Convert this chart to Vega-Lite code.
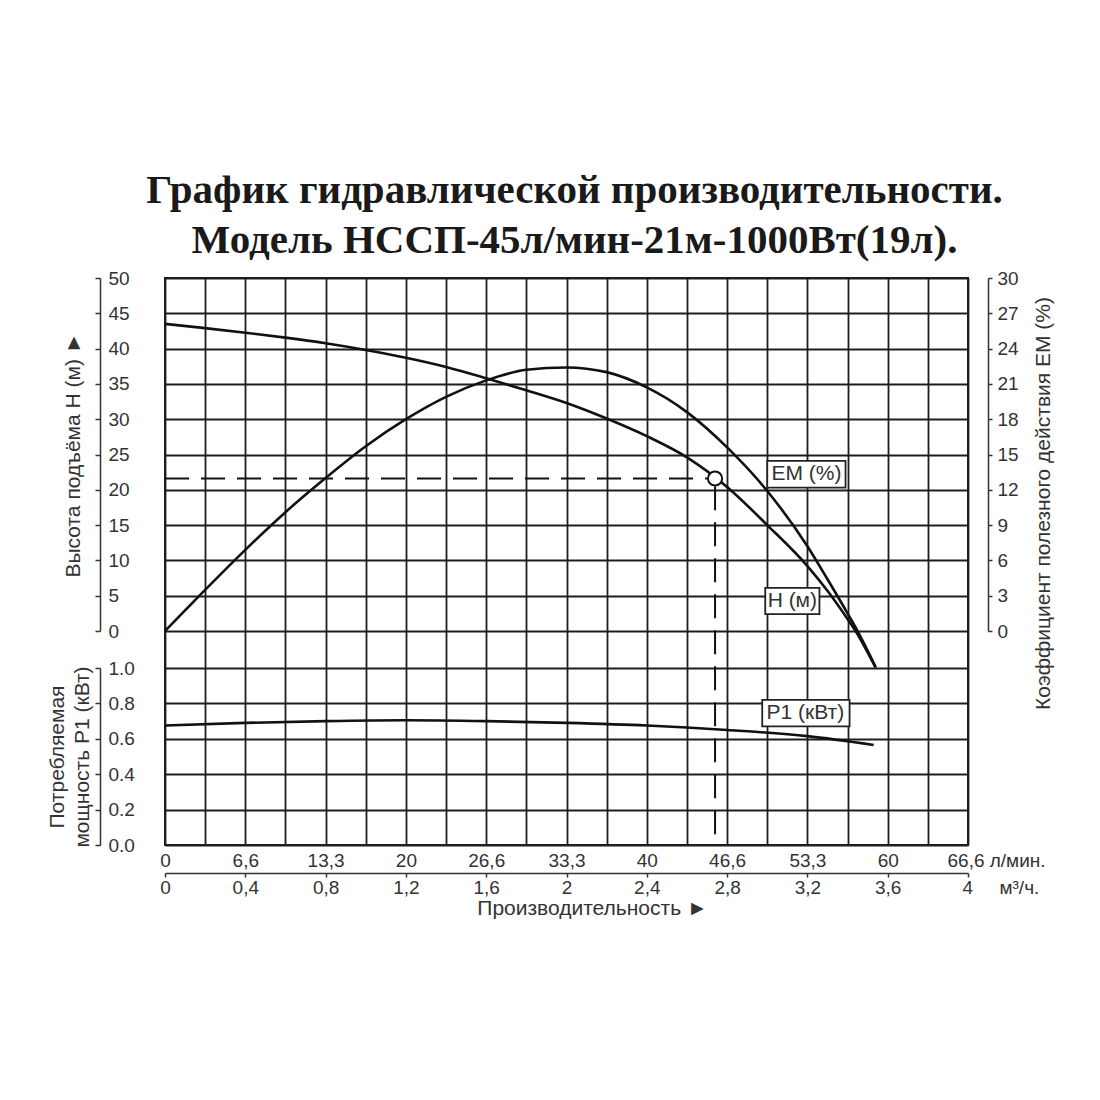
{
  "$schema": "https://vega.github.io/schema/vega-lite/v6.json",
  "width": 803,
  "height": 567,
  "autosize": {"type": "none"},
  "padding": {"left": 165, "top": 278, "right": 132, "bottom": 255},
  "background": "white",
  "title": {
    "text": ["График гидравлической производительности.", "Модель НССП-45л/мин-21м-1000Вт(19л)."],
    "font": "Liberation Serif",
    "fontSize": 41,
    "fontWeight": "bold",
    "color": "#1a1a1a",
    "lineHeight": 50,
    "anchor": "middle",
    "frame": "group",
    "offset": 7,
    "dx": 8
  },
  "datasets": {
    "head": [
      {"q": 0, "v": 43.5}, {"q": 0.2, "v": 42.9}, {"q": 0.4, "v": 42.25}, {"q": 0.6, "v": 41.55},
      {"q": 0.8, "v": 40.75}, {"q": 1.0, "v": 39.8}, {"q": 1.2, "v": 38.7}, {"q": 1.4, "v": 37.4},
      {"q": 1.6, "v": 35.8}, {"q": 1.8, "v": 34.1}, {"q": 2.0, "v": 32.3}, {"q": 2.2, "v": 30.1},
      {"q": 2.4, "v": 27.6}, {"q": 2.6, "v": 24.6}, {"q": 2.8, "v": 20.4}, {"q": 3.0, "v": 15.0},
      {"q": 3.2, "v": 9.2}, {"q": 3.3, "v": 5.7}, {"q": 3.4, "v": 1.7}, {"q": 3.44, "v": 0},
      {"q": 3.54, "v": -5.2}
    ],
    "eff": [
      {"q": 0, "v": 0}, {"q": 0.2, "v": 3.5}, {"q": 0.4, "v": 6.9}, {"q": 0.6, "v": 10.1},
      {"q": 0.8, "v": 13.0}, {"q": 1.0, "v": 15.7}, {"q": 1.2, "v": 18.0}, {"q": 1.4, "v": 19.9},
      {"q": 1.6, "v": 21.3}, {"q": 1.8, "v": 22.2}, {"q": 2.0, "v": 22.4}, {"q": 2.2, "v": 22.0},
      {"q": 2.4, "v": 20.7}, {"q": 2.6, "v": 18.6}, {"q": 2.8, "v": 15.6}, {"q": 3.0, "v": 11.9},
      {"q": 3.2, "v": 7.2}, {"q": 3.3, "v": 4.4}, {"q": 3.4, "v": 1.5}, {"q": 3.44, "v": 0.3},
      {"q": 3.54, "v": -3.06}
    ],
    "power": [
      {"q": 0, "v": 0.675}, {"q": 0.4, "v": 0.69}, {"q": 0.8, "v": 0.7}, {"q": 1.2, "v": 0.705},
      {"q": 1.6, "v": 0.7}, {"q": 2.0, "v": 0.69}, {"q": 2.4, "v": 0.675}, {"q": 2.8, "v": 0.65},
      {"q": 3.2, "v": 0.615}, {"q": 3.53, "v": 0.565}
    ],
    "duty": [
      {"q": 2.74, "v": 21.6, "q0": 0, "q1": 2.7, "v0": 20.5, "v1": -30.3}
    ],
    "tags": [
      {"q1": 3.0, "q2": 3.39, "v1": 24.1, "v2": 20.3, "qc": 3.195, "vc": 22.2, "label": "EM (%)"},
      {"q1": 2.99, "q2": 3.26, "v1": 6.1, "v2": 2.4, "qc": 3.125, "vc": 4.25, "label": "H (м)"}
    ],
    "ptag": [
      {"q1": 2.975, "q2": 3.41, "v1": 0.82, "v2": 0.67, "qc": 3.19, "vc": 0.745, "label": "P1 (кВт)"}
    ]
  },
  "layer": [
    {
      "data": {"name": "duty"},
      "mark": {"type": "rule", "color": "#111111", "strokeWidth": 2, "strokeDash": [24, 12]},
      "encoding": {
        "x": {
          "field": "q",
          "type": "quantitative",
          "scale": {"domain": [0, 4], "nice": false},
          "axis": {
            "orient": "bottom",
            "values": [0, 0.2, 0.4, 0.6, 0.8, 1, 1.2, 1.4, 1.6, 1.8, 2, 2.2, 2.4, 2.6, 2.8, 3, 3.2, 3.4, 3.6, 3.8, 4],
            "grid": true,
            "gridColor": "#1e1e1e",
            "gridWidth": 1.8,
            "gridOpacity": 1,
            "domain": false,
            "ticks": false,
            "labelExpr": "abs(datum.value / 0.4 - round(datum.value / 0.4)) > 0.01 ? '' : ['0', '6,6', '13,3', '20', '26,6', '33,3', '40', '46,6', '53,3', '60', '66,6 л/мин.'][round(datum.value / 0.4)]",
            "labelAlign": {"condition": {"test": "datum.value > 3.9", "value": "left"}, "value": "center"},
            "labelOffset": {"condition": {"test": "datum.value > 3.9", "value": -21}, "value": 0},
            "labelPadding": 6,
            "labelFlush": false,
            "labelOverlap": false,
            "title": null
          }
        },
        "y": {
          "field": "v0",
          "type": "quantitative",
          "scale": {"domain": [-30.3, 50], "nice": false, "zero": false},
          "axis": null
        },
        "y2": {"field": "v1"}
      }
    },
    {
      "encoding": {
        "x": {"field": "q", "type": "quantitative", "axis": null},
        "y": {
          "type": "quantitative",
          "scale": {"domain": [0, 50], "range": [353, 0], "nice": false, "zero": false},
          "axis": {
            "orient": "left",
            "offset": 65,
            "values": [0, 5, 10, 15, 20, 25, 30, 35, 40, 45, 50],
            "grid": true,
            "gridColor": "#1e1e1e",
            "gridWidth": 1.8,
            "gridOpacity": 1,
            "domain": true,
            "domainColor": "#333333",
            "domainWidth": 1.5,
            "tickSize": 5,
            "tickColor": "#333333",
            "tickWidth": 1.5,
            "labelAlign": "left",
            "labelBaseline": "middle",
            "labelPadding": -13,
            "labelFlush": false,
            "title": "Высота подъёма H (м) ►",
            "titleX": -27,
            "titleBaseline": "middle",
            "titleAngle": -90
          }
        }
      },
      "layer": [
        {
          "data": {"name": "head"},
          "mark": {"type": "line", "color": "#111111", "strokeWidth": 2.6, "interpolate": "monotone"},
          "encoding": {"y": {"field": "v"}}
        },
        {
          "data": {"name": "duty"},
          "mark": {"type": "rule", "color": "#111111", "strokeWidth": 2, "strokeDash": [24, 12]},
          "encoding": {"x": {"field": "q0"}, "x2": {"field": "q1"}, "y": {"field": "v"}}
        },
        {
          "data": {"name": "duty"},
          "mark": {"type": "point", "shape": "circle", "size": 200, "filled": true, "fill": "white", "stroke": "#111111", "strokeWidth": 2, "opacity": 1},
          "encoding": {"y": {"field": "v"}}
        },
        {
          "data": {"name": "tags"},
          "mark": {"type": "rect", "fill": "white", "stroke": "#222222", "strokeWidth": 1.8},
          "encoding": {"x": {"field": "q1"}, "x2": {"field": "q2"}, "y": {"field": "v1"}, "y2": {"field": "v2"}}
        },
        {
          "data": {"name": "tags"},
          "mark": {"type": "text", "font": "Liberation Sans", "fontSize": 21, "color": "#333333", "align": "center", "baseline": "middle"},
          "encoding": {"x": {"field": "qc"}, "y": {"field": "vc"}, "text": {"field": "label"}}
        }
      ]
    },
    {
      "data": {"name": "eff"},
      "mark": {"type": "line", "color": "#111111", "strokeWidth": 2.6, "interpolate": "monotone"},
      "encoding": {
        "x": {
          "field": "q",
          "type": "quantitative",
          "axis": {
            "orient": "bottom",
            "offset": 28,
            "values": [0, 0.4, 0.8, 1.2, 1.6, 2, 2.4, 2.8, 3.2, 3.6, 4],
            "grid": false,
            "domain": true,
            "domainColor": "#333333",
            "domainWidth": 1.5,
            "tickSize": 4,
            "tickColor": "#333333",
            "tickWidth": 1.5,
            "labelExpr": "['0', '0,4', '0,8', '1,2', '1,6', '2', '2,4', '2,8', '3,2', '3,6', '4\u00a0\u00a0\u00a0\u00a0\u00a0м³/ч.'][round(datum.value / 0.4)]",
            "labelAlign": {"condition": {"test": "datum.value > 3.9", "value": "left"}, "value": "center"},
            "labelOffset": {"condition": {"test": "datum.value > 3.9", "value": -6}, "value": 0},
            "labelPadding": 1,
            "labelFlush": false,
            "labelOverlap": false,
            "title": "Производительность ►",
            "titleFontSize": 21,
            "titleX": 427,
            "titleY": 35,
            "titleBaseline": "middle"
          }
        },
        "y": {
          "field": "v",
          "type": "quantitative",
          "scale": {"domain": [0, 30], "range": [353, 0], "nice": false, "zero": false},
          "axis": {
            "orient": "right",
            "offset": 20,
            "values": [0, 3, 6, 9, 12, 15, 18, 21, 24, 27, 30],
            "grid": false,
            "domain": true,
            "domainColor": "#333333",
            "domainWidth": 1.5,
            "tickSize": 4,
            "tickColor": "#333333",
            "tickWidth": 1.5,
            "labelBaseline": "middle",
            "labelPadding": 5,
            "labelFlush": false,
            "title": "Коэффициент полезного действия EM (%)",
            "titleAngle": -90,
            "titleX": 55,
            "titleY": 225,
            "titleBaseline": "middle",
            "titleAlign": "center"
          }
        }
      }
    },
    {
      "encoding": {
        "x": {"field": "q", "type": "quantitative", "axis": null},
        "y": {
          "type": "quantitative",
          "scale": {"domain": [0, 1], "range": [567, 390], "nice": false, "zero": false},
          "axis": {
            "orient": "left",
            "offset": 65,
            "values": [0, 0.2, 0.4, 0.6, 0.8, 1],
            "format": ".1f",
            "grid": true,
            "gridColor": "#1e1e1e",
            "gridWidth": 1.8,
            "gridOpacity": 1,
            "domain": true,
            "domainColor": "#333333",
            "domainWidth": 1.5,
            "tickSize": 5,
            "tickColor": "#333333",
            "tickWidth": 1.5,
            "labelAlign": "left",
            "labelBaseline": "middle",
            "labelPadding": -13,
            "labelFlush": false,
            "title": ["Потребляемая", "мощность P1 (кВт)"],
            "titleX": -43,
            "titleBaseline": "middle",
            "titleAngle": -90,
            "titleLineHeight": 25
          }
        }
      },
      "layer": [
        {
          "data": {"name": "power"},
          "mark": {"type": "line", "color": "#111111", "strokeWidth": 2.6, "interpolate": "monotone"},
          "encoding": {"y": {"field": "v"}}
        },
        {
          "data": {"name": "ptag"},
          "mark": {"type": "rect", "fill": "white", "stroke": "#222222", "strokeWidth": 1.8},
          "encoding": {"x": {"field": "q1"}, "x2": {"field": "q2"}, "y": {"field": "v1"}, "y2": {"field": "v2"}}
        },
        {
          "data": {"name": "ptag"},
          "mark": {"type": "text", "font": "Liberation Sans", "fontSize": 21, "color": "#333333", "align": "center", "baseline": "middle"},
          "encoding": {"x": {"field": "qc"}, "y": {"field": "vc"}, "text": {"field": "label"}}
        }
      ]
    }
  ],
  "resolve": {"scale": {"y": "independent"}, "axis": {"x": "independent"}},
  "config": {
    "view": {"stroke": "#1e1e1e", "strokeWidth": 2},
    "axis": {
      "labelFont": "Liberation Sans",
      "labelFontSize": 19,
      "labelColor": "#333333",
      "titleFont": "Liberation Sans",
      "titleFontSize": 21,
      "titleFontWeight": "normal",
      "titleColor": "#333333"
    }
  }
}
